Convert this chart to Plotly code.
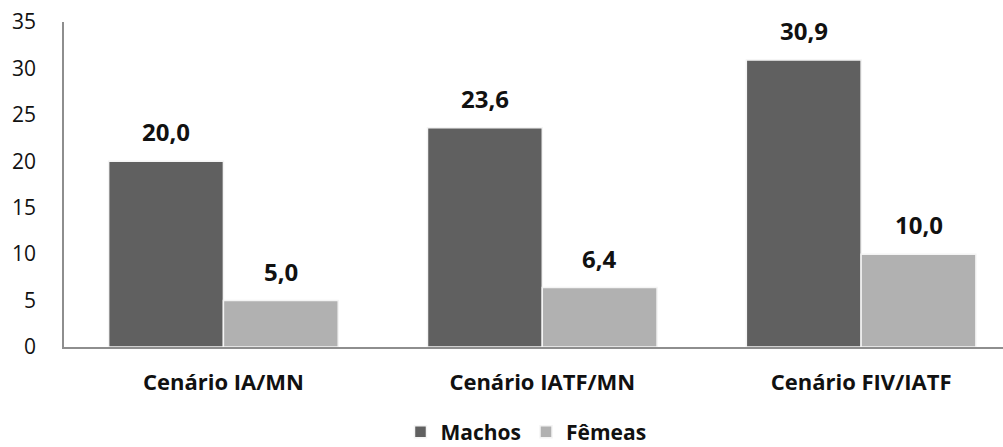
import plotly.graph_objects as go

# Data
cenarios = ["Cenário IA/MN", "Cenário IATF/MN", "Cenário FIV/IATF"]
machos = [20.0, 23.6, 30.9]
femeas = [5.0, 6.4, 10.0]
serie_nomes = ["Machos", "Fêmeas"]
y_ticks = [0, 5, 10, 15, 20, 25, 30, 35]

COR_MACHOS = "#606060"
COR_FEMEAS = "#b1b1b1"
FONTE = "Open Sans"

fig = go.Figure()
fig.add_trace(go.Bar(
    x=cenarios, y=machos, name=serie_nomes[0],
    marker=dict(color=COR_MACHOS, line=dict(color="#f4f4f4", width=1.5)),
))
fig.add_trace(go.Bar(
    x=cenarios, y=femeas, name=serie_nomes[1],
    marker=dict(color=COR_FEMEAS, line=dict(color="#f4f4f4", width=1.5)),
))

# Value labels above each bar (decimal comma)
half = 0.18
for i, (m, f) in enumerate(zip(machos, femeas)):
    for xpos, val in ((i - half, m), (i + half, f)):
        fig.add_annotation(
            x=xpos, y=val, xref="x", yref="y",
            text=f"{val:.1f}".replace(".", ","),
            showarrow=False, yanchor="bottom", yshift=11,
            font=dict(family=FONTE, size=24, color="#111111", weight="bold"),
        )

fig.update_layout(
    width=1003, height=447,
    margin=dict(l=64, r=0, t=22, b=100, autoexpand=False),
    paper_bgcolor="white", plot_bgcolor="white",
    barmode="group", bargap=0.28, bargroupgap=0.0,
    font=dict(family=FONTE, color="#111111"),
    showlegend=True,
    legend=dict(
        orientation="h", x=0.492, y=-0.262, xanchor="center", yanchor="middle",
        font=dict(family=FONTE, size=21, color="#111111", weight="bold"),
        itemwidth=30, traceorder="normal",
    ),
)
fig.update_xaxes(
    range=[-0.5, 2.445],
    showline=True, linecolor="#8e8e8e", linewidth=1.5,
    showgrid=False, ticks="", ticklabelstandoff=15,
    tickfont=dict(family=FONTE, size=22, color="#111111", weight="bold"),
)
fig.update_yaxes(
    range=[0, 35], tickvals=y_ticks,
    showline=True, linecolor="#8e8e8e", linewidth=1.5,
    showgrid=False, zeroline=False, ticks="", ticklabelstandoff=22,
    tickfont=dict(family=FONTE, size=21, color="#111111"),
)

fig.write_html("out.html")
